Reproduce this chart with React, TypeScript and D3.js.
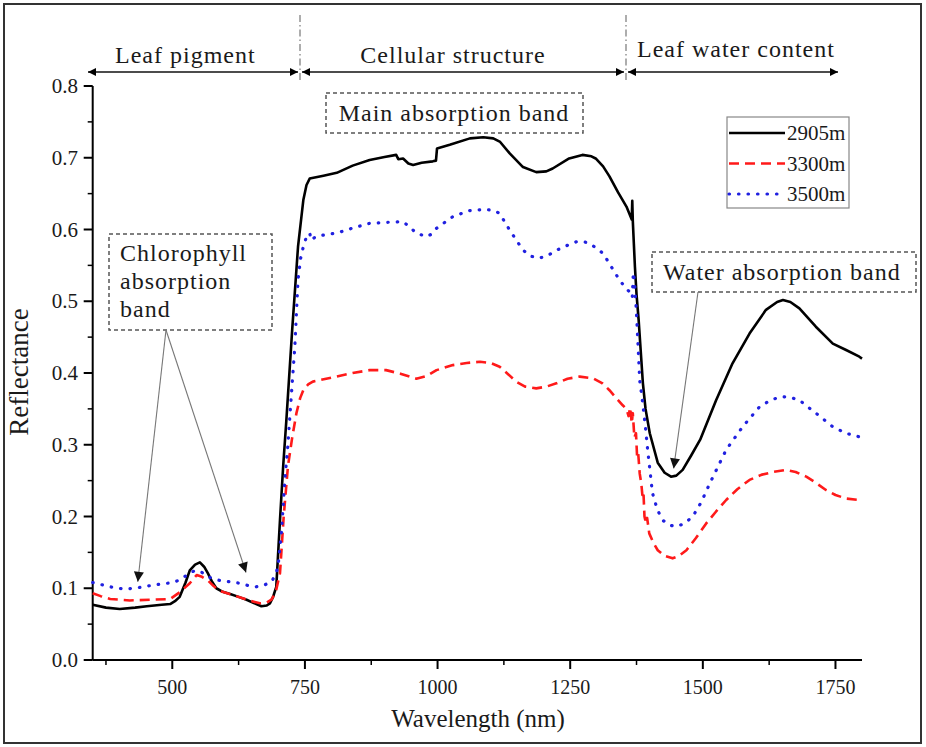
import React from "react";
import * as d3 from "d3";

// ---------- data ----------
const black2905: [number, number][] = [
  [350,0.077],[375,0.073],[401,0.071],[430,0.073],[452,0.075],[480,0.077],[496,0.078],[505,0.082],[514,0.088],[525,0.108],[533,0.125],[543,0.133],[552,0.136],[560,0.13],[567,0.121],[575,0.109],[583,0.1],[595,0.095],[609,0.092],[625,0.088],[640,0.084],[655,0.079],[668,0.075],[678,0.076],[684,0.079],[690,0.088],[696,0.102],[703,0.195],[709,0.27],[715,0.334],[726,0.46],[737,0.576],[747,0.641],[753,0.662],[759,0.671],[785,0.675],[810,0.679],[840,0.689],[872,0.697],[900,0.701],[922,0.704],[926,0.698],[935,0.699],[945,0.692],[954,0.69],[970,0.693],[991,0.695],[997,0.696],[999,0.713],[1023,0.718],[1061,0.727],[1086,0.7285],[1105,0.727],[1118,0.722],[1136,0.706],[1161,0.687],[1186,0.68],[1205,0.681],[1217,0.685],[1248,0.699],[1273,0.704],[1290,0.702],[1298,0.699],[1312,0.688],[1324,0.674],[1340,0.652],[1356,0.632],[1366,0.614],[1367,0.64],[1368,0.612],[1370,0.58],[1372,0.548],[1375,0.51],[1379,0.474],[1387,0.386],[1392,0.35],[1400,0.316],[1415,0.275],[1428,0.261],[1440,0.2555],[1450,0.257],[1462,0.265],[1478,0.285],[1495,0.307],[1525,0.362],[1556,0.4135],[1588,0.455],[1619,0.488],[1640,0.499],[1651,0.5017],[1665,0.499],[1682,0.49],[1713,0.4645],[1745,0.441],[1770,0.432],[1795,0.4227],[1800,0.42]
];
const red3300: [number, number][] = [
  [350,0.093],[365,0.089],[383,0.085],[420,0.083],[460,0.084],[496,0.085],[515,0.095],[533,0.107],[546,0.1185],[556,0.116],[567,0.111],[578,0.103],[589,0.0966],[608,0.092],[627,0.0874],[645,0.083],[665,0.079],[678,0.08],[687,0.084],[695,0.095],[703,0.121],[710,0.2],[718,0.27],[726,0.31],[734,0.344],[741,0.365],[747,0.376],[756,0.384],[765,0.388],[790,0.392],[810,0.395],[840,0.4],[872,0.404],[903,0.404],[930,0.399],[960,0.392],[980,0.396],[998,0.404],[1029,0.411],[1055,0.414],[1080,0.4157],[1100,0.414],[1117,0.4088],[1135,0.397],[1148,0.388],[1165,0.381],[1186,0.3786],[1205,0.381],[1224,0.3856],[1245,0.392],[1268,0.395],[1293,0.3926],[1310,0.386],[1324,0.376],[1337,0.365],[1349,0.355],[1356,0.35],[1360,0.34],[1363,0.352],[1366,0.33],[1368,0.344],[1371,0.31],[1374,0.316],[1376,0.285],[1378,0.29],[1381,0.26],[1384,0.246],[1386,0.23],[1388,0.235],[1390,0.2],[1393,0.19],[1395,0.198],[1399,0.1765],[1407,0.163],[1415,0.153],[1428,0.145],[1443,0.1417],[1455,0.145],[1469,0.153],[1487,0.17],[1506,0.19],[1525,0.207],[1544,0.223],[1565,0.238],[1588,0.251],[1610,0.258],[1632,0.262],[1657,0.265],[1675,0.262],[1695,0.2555],[1713,0.247],[1732,0.237],[1750,0.23],[1770,0.225],[1795,0.223],[1800,0.222]
];
const blue3500: [number, number][] = [
  [350,0.108],[383,0.102],[408,0.099],[430,0.1],[452,0.103],[480,0.106],[502,0.108],[515,0.112],[527,0.118],[537,0.123],[546,0.125],[556,0.122],[565,0.117],[577,0.113],[589,0.111],[608,0.109],[627,0.107],[642,0.104],[658,0.102],[672,0.104],[687,0.109],[696,0.121],[700,0.135],[706,0.18],[712,0.25],[718,0.3],[722,0.344],[731,0.437],[737,0.53],[742,0.56],[747,0.576],[753,0.59],[759,0.595],[762,0.585],[770,0.59],[790,0.593],[810,0.595],[840,0.602],[872,0.6086],[905,0.61],[935,0.611],[948,0.603],[960,0.595],[979,0.59],[990,0.594],[998,0.6016],[1029,0.618],[1060,0.6263],[1092,0.628],[1108,0.626],[1117,0.6225],[1136,0.599],[1161,0.5714],[1175,0.563],[1192,0.56],[1208,0.564],[1224,0.571],[1245,0.578],[1262,0.583],[1275,0.583],[1287,0.5807],[1312,0.5668],[1330,0.545],[1343,0.5296],[1355,0.518],[1362,0.513],[1367,0.505],[1369,0.54],[1371,0.53],[1375,0.483],[1381,0.39],[1386,0.362],[1391,0.33],[1396,0.293],[1405,0.233],[1414,0.21],[1424,0.195],[1437,0.188],[1450,0.186],[1465,0.19],[1481,0.2],[1497,0.22],[1513,0.246],[1544,0.293],[1575,0.325],[1607,0.353],[1630,0.363],[1650,0.367],[1665,0.366],[1682,0.362],[1713,0.344],[1745,0.325],[1770,0.316],[1795,0.311],[1800,0.31]
];

const seriesNames = ["2905m", "3300m", "3500m"];
const xMajorTicks = [500, 750, 1000, 1250, 1500, 1750];
const xMinorTicks = [375, 625, 875, 1125, 1375, 1625];
const yMajorTicks = [0, 0.1, 0.2, 0.3, 0.4, 0.5, 0.6, 0.7, 0.8];
const yMinorTicks = [0.05, 0.15, 0.25, 0.35, 0.45, 0.55, 0.65, 0.75];
const regionLabels = ["Leaf pigment", "Cellular structure", "Leaf water content"];

const W = 926, H = 747;
const FONT = "'Liberation Serif', 'Times New Roman', serif";

export default function App() {
  const x = d3.scaleLinear().domain([350, 1800]).range([92.7, 862]);
  const y = d3.scaleLinear().domain([0, 0.8]).range([660, 86]);
  const line = d3.line<[number, number]>().x(d => x(d[0])).y(d => y(d[1]));

  const styles = [
    { color: "#000", dash: undefined as string | undefined, width: 2.6, cap: "butt" },
    { color: "#ff1a1a", dash: "10 6", width: 2.6, cap: "butt" },
    { color: "#2020e0", dash: "0.5 9", width: 3.2, cap: "round" },
  ];
  const data = [black2905, red3300, blue3500];

  const arrowY = 72;
  const sep1 = 300, sep2 = 626;
  const regions = [
    { x1: 88, x2: sep1 - 2, label: regionLabels[0], tx: 115, ty: 63, anchor: "start" },
    { x1: sep1 + 2, x2: sep2 - 2, label: regionLabels[1], tx: 453, ty: 63, anchor: "middle" },
    { x1: sep2 + 2, x2: 838, label: regionLabels[2], tx: 637, ty: 57, anchor: "start" },
  ];

  return (
    <svg width={W} height={H} style={{ position: "absolute", left: 0, top: 0, background: "#fff" }}
      fontFamily={FONT}>
      <defs>
        <marker id="ah" viewBox="0 0 10 10" refX="10" refY="5" markerWidth="8" markerHeight="8"
          markerUnits="userSpaceOnUse" orient="auto-start-reverse">
          <path d="M0,0 L10,5 L0,10 z" fill="#000" />
        </marker>
        <marker id="ah2" viewBox="0 0 10 10" refX="10" refY="5" markerWidth="11" markerHeight="10"
          markerUnits="userSpaceOnUse" orient="auto">
          <path d="M0,0 L10,5 L0,10 z" fill="#111" />
        </marker>
      </defs>
      <rect x={0} y={0} width={W} height={H} fill="#fff" />
      <rect x={4} y={4} width={917} height={739} fill="none" stroke="#333" strokeWidth={2} />

      {[sep1, sep2].map((sx, i) => (
        <line key={i} x1={sx} x2={sx} y1={15} y2={83} stroke="#777" strokeWidth={1.2}
          strokeDasharray="7 3 1.5 3" />
      ))}
      {regions.map((r, i) => (
        <g key={i}>
          <line x1={r.x1} x2={r.x2} y1={arrowY} y2={arrowY} stroke="#111" strokeWidth={1.5}
            markerStart="url(#ah)" markerEnd="url(#ah)" />
          <text x={r.tx} y={r.ty} textAnchor={r.anchor as any} fontSize={24} letterSpacing={1} fill="#1a1a1a">
            {r.label}
          </text>
        </g>
      ))}

      {/* axes */}
      <line x1={x(350)} x2={x(1800)} y1={y(0)} y2={y(0)} stroke="#000" strokeWidth={2} />
      <line x1={x(350)} x2={x(350)} y1={y(0)} y2={y(0.8)} stroke="#000" strokeWidth={2} />
      {xMajorTicks.map(t => (
        <g key={t}>
          <line x1={x(t)} x2={x(t)} y1={y(0)} y2={y(0) + 9} stroke="#000" strokeWidth={2} />
          <text x={x(t)} y={694} textAnchor="middle" fontSize={20} fill="#1a1a1a">{t}</text>
        </g>
      ))}
      {xMinorTicks.map(t => (
        <line key={t} x1={x(t)} x2={x(t)} y1={y(0)} y2={y(0) + 5} stroke="#000" strokeWidth={1.5} />
      ))}
      {yMajorTicks.map(t => (
        <g key={t}>
          <line x1={x(350) - 9} x2={x(350)} y1={y(t)} y2={y(t)} stroke="#000" strokeWidth={2} />
          <text x={78} y={y(t) + 7} textAnchor="end" fontSize={21} fill="#1a1a1a">{t.toFixed(1)}</text>
        </g>
      ))}
      {yMinorTicks.map(t => (
        <line key={t} x1={x(350) - 5} x2={x(350)} y1={y(t)} y2={y(t)} stroke="#000" strokeWidth={1.5} />
      ))}
      <text x={478} y={727} textAnchor="middle" fontSize={25} fill="#1a1a1a">Wavelength (nm)</text>
      <text transform={`translate(28,372) rotate(-90)`} textAnchor="middle" fontSize={27} fill="#1a1a1a">Reflectance</text>

      {data.map((d, i) => (
        <path key={i} d={line(d) || ""} fill="none" stroke={styles[i].color} strokeWidth={styles[i].width}
          strokeDasharray={styles[i].dash} strokeLinecap={styles[i].cap as any} strokeLinejoin="round" />
      ))}

      {/* legend */}
      <rect x={727} y={117} width={122} height={91} fill="#fff" stroke="#888" strokeWidth={1.2} />
      {seriesNames.map((n, i) => {
        const ly = 133 + i * 30.5;
        return (
          <g key={n}>
            <line x1={729} x2={785} y1={ly} y2={ly} stroke={styles[i].color} strokeWidth={styles[i].width}
              strokeDasharray={styles[i].dash} strokeLinecap={styles[i].cap as any} />
            <text x={787} y={ly + 7} fontSize={21} fill="#1a1a1a">{n}</text>
          </g>
        );
      })}

      {/* annotation boxes */}
      <rect x={326} y={93} width={257} height={40} fill="#fff" stroke="#555" strokeWidth={1.5} strokeDasharray="4 3" />
      <text x={454} y={121} textAnchor="middle" fontSize={24} letterSpacing={1} fill="#1a1a1a">Main absorption band</text>

      <rect x={109} y={234} width={163} height={96} fill="#fff" stroke="#555" strokeWidth={1.5} strokeDasharray="4 3" />
      {["Chlorophyll", "absorption", "band"].map((t, i) => (
        <text key={t} x={120} y={261 + i * 28} fontSize={24} letterSpacing={1} fill="#1a1a1a">{t}</text>
      ))}
      <line x1={166} y1={330} x2={x(435)} y2={y(0.109)} stroke="#777" strokeWidth={1.1} markerEnd="url(#ah2)" />
      <line x1={166} y1={330} x2={x(639)} y2={y(0.122)} stroke="#777" strokeWidth={1.1} markerEnd="url(#ah2)" />

      <rect x={652} y={252} width={264} height={40} fill="#fff" stroke="#555" strokeWidth={1.5} strokeDasharray="4 3" />
      <text x={663} y={280} fontSize={24} letterSpacing={1} fill="#1a1a1a">Water absorption band</text>
      <line x1={698} y1={292} x2={x(1445)} y2={y(0.267)} stroke="#777" strokeWidth={1.1} markerEnd="url(#ah2)" />
    </svg>
  );
}
